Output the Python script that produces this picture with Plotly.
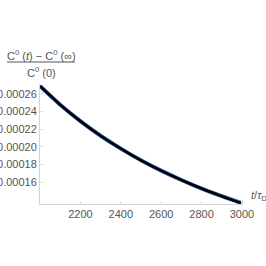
import plotly.graph_objects as go

# values
t_vals = [2000, 2100, 2200, 2300, 2400, 2500, 2600, 2700, 2800, 2900, 3000]
c_vals = [0.000269, 0.0002478, 0.0002292, 0.0002126, 0.000198, 0.0001848,
          0.000173, 0.0001624, 0.0001527, 0.000144, 0.000136]
x_ticks = [2200, 2400, 2600, 2800, 3000]
y_ticks = [0.00016, 0.00018, 0.00020, 0.00022, 0.00024, 0.00026]
y_tick_text = ["0.00016", "0.00018", "0.00020", "0.00022", "0.00024", "0.00026"]

fig = go.Figure()
fig.add_trace(go.Scatter(x=t_vals, y=c_vals, mode="lines",
                         line=dict(color="#3d6fb8", width=4, shape="spline"),
                         hoverinfo="skip"))
fig.add_trace(go.Scatter(x=t_vals, y=c_vals, mode="lines",
                         line=dict(color="#000000", width=2.6, shape="spline"),
                         hoverinfo="skip"))

axis_common = dict(showgrid=False, zeroline=False, showline=True, automargin=False,
                   linecolor="#d4d4d4", linewidth=1, ticks="inside",
                   ticklen=3, tickcolor="#dddddd",
                   tickfont=dict(family="Liberation Sans, Arial", size=11, color="#555555"))

fig.update_layout(
    width=266, height=266,
    margin=dict(l=40, r=23, t=84, b=62),
    paper_bgcolor="white", plot_bgcolor="white",
    showlegend=False,
    xaxis=dict(range=[2000, 3005], tickvals=x_ticks, ticktext=[str(v) for v in x_ticks],
               **axis_common),
    yaxis=dict(range=[0.0001352, 0.0002713], tickvals=y_ticks, ticktext=y_tick_text,
               **axis_common),
)

label_font = dict(family="Liberation Sans, Arial", size=11, color="#555555")
fig.add_annotation(xref="paper", yref="paper", x=0.005, y=1.0, yshift=29,
                   text="C<sup>0</sup> (<i>t</i>) − C<sup>0</sup> (∞)",
                   showarrow=False, font=label_font, xanchor="center", yanchor="middle")
fig.add_annotation(xref="paper", yref="paper", x=0.005, y=1.0, yshift=12,
                   text="C<sup>0</sup> (0)",
                   showarrow=False, font=label_font, xanchor="center", yanchor="middle")
fig.add_shape(type="line", xref="paper", yref="paper", x0=-0.163, x1=0.172,
              y0=1.0 + 22 / 120, y1=1.0 + 22 / 120,
              line=dict(color="#555555", width=1))
fig.add_annotation(xref="paper", yref="paper", x=1.0, y=0.0, xshift=6, yshift=8,
                   text="<i>t</i>/<i>τ</i><sub>D</sub>",
                   showarrow=False, font=label_font, xanchor="left", yanchor="middle")

fig.write_html("out.html", config={"displayModeBar": False},
               post_script="document.body.style.margin='0';document.body.style.padding='0';")
